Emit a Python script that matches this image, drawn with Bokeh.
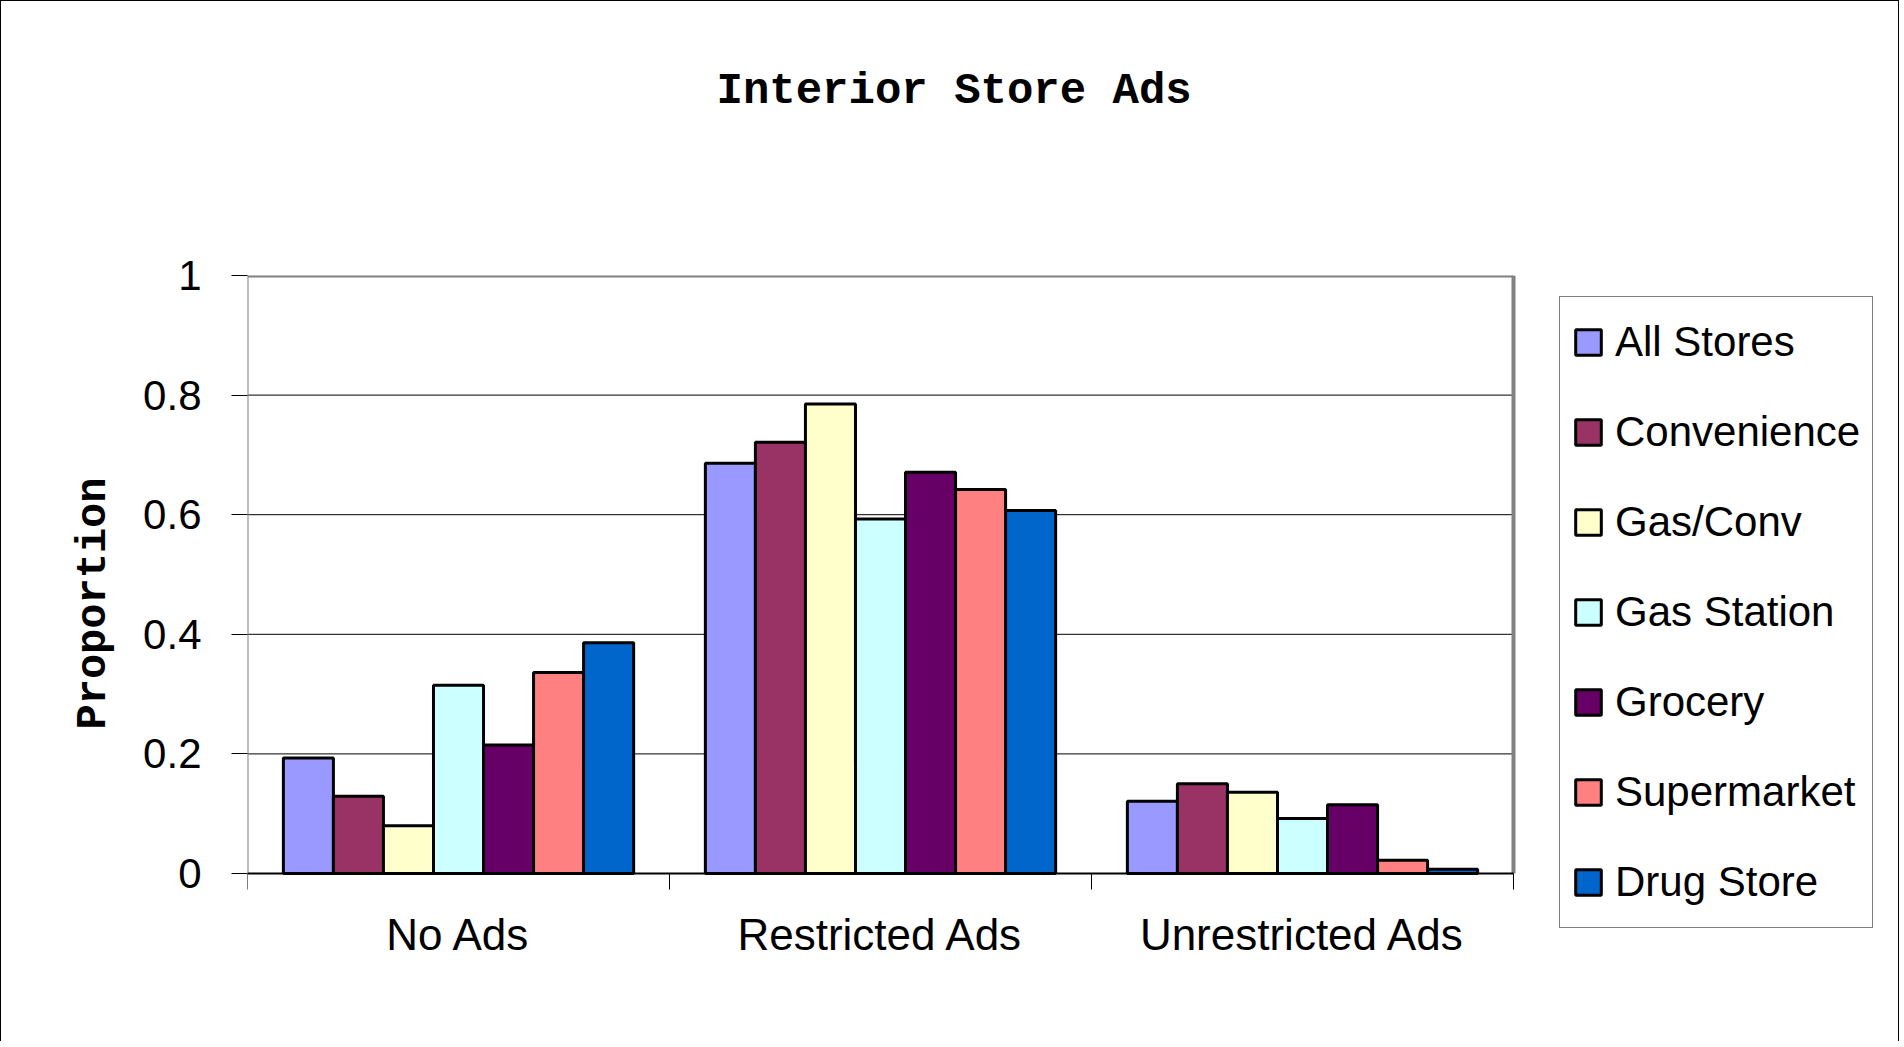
from bokeh.plotting import figure
from bokeh.models import ColumnDataSource, Range1d, FixedTicker, Legend, LegendItem, Title
from bokeh.embed import file_html
from bokeh.resources import INLINE

# ---------------- data ----------------
categories = ["No Ads", "Restricted Ads", "Unrestricted Ads"]
series_names = ["All Stores", "Convenience", "Gas/Conv", "Gas Station",
                "Grocery", "Supermarket", "Drug Store"]
all_stores = [0.193, 0.686, 0.121]
convenience = [0.129, 0.721, 0.150]
gas_conv = [0.080, 0.785, 0.136]
gas_station = [0.315, 0.593, 0.092]
grocery = [0.215, 0.671, 0.115]
supermarket = [0.336, 0.642, 0.022]
drug_store = [0.386, 0.607, 0.007]
colors = ["#9999FF", "#993366", "#FFFFCC", "#CCFFFF", "#660066", "#FF8080", "#0066CC"]
y_ticks = [0, 0.2, 0.4, 0.6, 0.8, 1]
y_tick_labels = ["0", "0.2", "0.4", "0.6", "0.8", "1"]

series_values = [all_stores, convenience, gas_conv, gas_station,
                 grocery, supermarket, drug_store]

SANS = "Liberation Sans"
MONO = "Liberation Mono"

# ---------------- layout geometry (pixels) ----------------
PLOT_W = 1266        # width of the value area (3 categories)
PLOT_H = 598         # height of the value area (0..1)
EXTRA_R = 383        # room on the right of the value area for the legend
EXTRA_B = 58         # room below y=0 inside the frame (legend overhang)
TICK = 16            # length of the category separator ticks
ncat = len(categories)
x_end = ncat * (PLOT_W + EXTRA_R) / PLOT_W
y_start = -EXTRA_B / PLOT_H

p = figure(frame_width=PLOT_W + EXTRA_R, frame_height=PLOT_H + EXTRA_B,
           output_backend="svg", toolbar_location=None,
           x_range=Range1d(0, x_end), y_range=Range1d(y_start, 1),
           min_border_left=246, min_border_right=2,
           min_border_top=274, min_border_bottom=110)
p.styles = {"border-top": "1px solid black", "border-left": "1px solid black",
            "border-right": "1px solid black"}
p.background_fill_color = "white"
p.border_fill_color = "white"
p.outline_line_color = None

# title (farthest from the frame) + an invisible spacer between it and the frame
p.title.text = "Interior Store Ads"
p.title.align = "left"
p.title.offset = 469
p.title.standoff = 0
p.title.text_font = MONO
p.title.text_font_style = "bold"
p.title.text_font_size = "44px"
p.title.text_color = "black"
spacer = Title(text=" ", text_font_size="1px", standoff=157, text_color="white")
p.add_layout(spacer, "above")

# horizontal grid lines inside the value area
grid_y = y_ticks[1:-1]
p.segment(x0=[0] * len(grid_y), x1=[ncat] * len(grid_y), y0=grid_y, y1=grid_y,
          line_color="black", line_width=1)

# bars
group_frac = 0.83
n = len(series_names)
bw = group_frac / n
renderers = []
for j, (name, vals, col) in enumerate(zip(series_names, series_values, colors)):
    xs = [i + 0.5 + (j - (n - 1) / 2) * bw for i in range(ncat)]
    src = ColumnDataSource(dict(x=xs, top=vals, cat=categories))
    r = p.vbar(x="x", top="top", bottom=0, width=bw, source=src,
               fill_color=col, line_color="black", line_width=3)
    renderers.append((name, r))

# value-area border: gray top / right / left, black baseline
p.segment(x0=[0, ncat], x1=[ncat, ncat], y0=[y_ticks[-1], 0], y1=[y_ticks[-1], y_ticks[-1]],
          line_color="#808080", line_width=4)
p.segment(x0=[0], x1=[0], y0=[0], y1=[y_ticks[-1]], line_color="#808080", line_width=2)
p.segment(x0=[0], x1=[ncat], y0=[0], y1=[0], line_color="black", line_width=2)

# category separator ticks below the baseline
sep = list(range(ncat + 1))
p.segment(x0=sep, x1=sep, y0=[0] * len(sep), y1=[-TICK / PLOT_H] * len(sep),
          line_color="black", line_width=1)

# x axis: only the category labels (axis sits at frame bottom, labels pulled up)
xa = p.xaxis[0]
xa.ticker = FixedTicker(ticks=[i + 0.5 for i in range(ncat)])
xa.major_label_overrides = {i + 0.5: c for i, c in enumerate(categories)}
xa.major_tick_out = 0
xa.major_tick_in = 0
xa.minor_tick_out = 0
xa.minor_tick_in = 0
xa.axis_line_color = None
xa.major_label_text_font = SANS
xa.major_label_text_font_size = "44px"
xa.major_label_text_color = "black"
xa.major_label_standoff = 36 - EXTRA_B

# y axis
ya = p.yaxis[0]
ya.ticker = FixedTicker(ticks=y_ticks)
ya.major_label_overrides = {t: l for t, l in zip(y_ticks, y_tick_labels)}
ya.major_tick_out = 16
ya.major_tick_in = 0
ya.major_tick_line_color = "black"
ya.minor_tick_out = 0
ya.minor_tick_in = 0
ya.axis_line_color = None
ya.major_label_text_font = SANS
ya.major_label_text_font_size = "42px"
ya.major_label_text_color = "black"
ya.major_label_standoff = 30
ya.axis_label = "Proportion"
ya.axis_label_text_font = MONO
ya.axis_label_text_font_style = "bold"
ya.axis_label_text_font_size = "42px"
ya.axis_label_text_color = "black"
ya.axis_label_standoff = 22

p.xgrid.visible = False
p.ygrid.visible = False

# legend (inside the frame, to the right of the value area)
legend = Legend(items=[LegendItem(label=name, renderers=[r]) for name, r in renderers],
                location=(PLOT_W + 46, EXTRA_B - 55), orientation="vertical")
legend.border_line_color = "black"
legend.border_line_width = 1
legend.background_fill_color = "white"
legend.background_fill_alpha = 1
legend.label_text_font = SANS
legend.label_text_font_size = "42px"
legend.label_text_color = "black"
legend.glyph_width = 32
legend.glyph_height = 32
legend.label_height = 66
legend.label_standoff = 11
legend.spacing = 24
legend.padding = 12
legend.margin = 0
p.add_layout(legend)

open("out.html", "w").write(file_html(p, INLINE))
